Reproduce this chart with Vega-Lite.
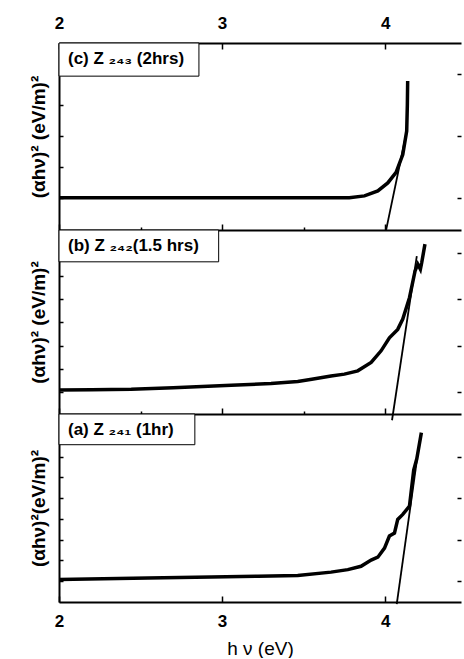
{
  "$schema": "https://vega.github.io/schema/vega-lite/v6.json",
  "padding": {"left": 29, "top": 14, "right": 0, "bottom": 0},
  "spacing": 0,
  "bounds": "flush",
  "background": "white",
  "config": {
    "font": "Liberation Sans",
    "view": {"stroke": null},
    "axis": {
      "grid": false,
      "domainColor": "black",
      "domainWidth": 2,
      "tickColor": "black",
      "tickWidth": 1.5,
      "labelColor": "black",
      "titleColor": "black",
      "labelFont": "Liberation Sans",
      "labelFontWeight": "bold",
      "labelFontSize": 17,
      "titleFont": "Liberation Sans",
      "titleFontWeight": "bold",
      "titleFontSize": 19
    }
  },
  "datasets": {
    "spectra": [
      {"panel": "c", "series": "data", "hv": 2.0, "ab": 0.0},
      {"panel": "c", "series": "data", "hv": 2.5, "ab": 0.0},
      {"panel": "c", "series": "data", "hv": 3.0, "ab": 0.0},
      {"panel": "c", "series": "data", "hv": 3.5, "ab": 0.0},
      {"panel": "c", "series": "data", "hv": 3.78, "ab": 0.0},
      {"panel": "c", "series": "data", "hv": 3.873, "ab": 0.03},
      {"panel": "c", "series": "data", "hv": 3.955, "ab": 0.11},
      {"panel": "c", "series": "data", "hv": 4.016, "ab": 0.24},
      {"panel": "c", "series": "data", "hv": 4.067, "ab": 0.41},
      {"panel": "c", "series": "data", "hv": 4.108, "ab": 0.7},
      {"panel": "c", "series": "data", "hv": 4.132, "ab": 1.08},
      {"panel": "c", "series": "data", "hv": 4.136, "ab": 1.5},
      {"panel": "c", "series": "data", "hv": 4.138, "ab": 1.89},
      {"panel": "c", "series": "fit", "hv": 4.006, "ab": -0.52},
      {"panel": "c", "series": "fit", "hv": 4.126, "ab": 1.0},
      {"panel": "b", "series": "data", "hv": 2.0, "ab": 0.05},
      {"panel": "b", "series": "data", "hv": 2.2, "ab": 0.055},
      {"panel": "b", "series": "data", "hv": 2.443, "ab": 0.064},
      {"panel": "b", "series": "data", "hv": 2.7, "ab": 0.1},
      {"panel": "b", "series": "data", "hv": 3.056, "ab": 0.15},
      {"panel": "b", "series": "data", "hv": 3.3, "ab": 0.19},
      {"panel": "b", "series": "data", "hv": 3.464, "ab": 0.23},
      {"panel": "b", "series": "data", "hv": 3.55, "ab": 0.28},
      {"panel": "b", "series": "data", "hv": 3.668, "ab": 0.35},
      {"panel": "b", "series": "data", "hv": 3.75, "ab": 0.39},
      {"panel": "b", "series": "data", "hv": 3.832, "ab": 0.46},
      {"panel": "b", "series": "data", "hv": 3.914, "ab": 0.64},
      {"panel": "b", "series": "data", "hv": 3.975, "ab": 0.89},
      {"panel": "b", "series": "data", "hv": 4.026, "ab": 1.17},
      {"panel": "b", "series": "data", "hv": 4.077, "ab": 1.35},
      {"panel": "b", "series": "data", "hv": 4.108, "ab": 1.57},
      {"panel": "b", "series": "data", "hv": 4.149, "ab": 2.03},
      {"panel": "b", "series": "data", "hv": 4.183, "ab": 2.6},
      {"panel": "b", "series": "data", "hv": 4.2, "ab": 2.75},
      {"panel": "b", "series": "data", "hv": 4.216, "ab": 2.64},
      {"panel": "b", "series": "data", "hv": 4.224, "ab": 2.78},
      {"panel": "b", "series": "data", "hv": 4.244, "ab": 3.18},
      {"panel": "b", "series": "fit", "hv": 4.042, "ab": -0.6},
      {"panel": "b", "series": "fit", "hv": 4.194, "ab": 2.92},
      {"panel": "a", "series": "data", "hv": 2.0, "ab": 0.04},
      {"panel": "a", "series": "data", "hv": 2.545, "ab": 0.08},
      {"panel": "a", "series": "data", "hv": 2.933, "ab": 0.1},
      {"panel": "a", "series": "data", "hv": 3.219, "ab": 0.12},
      {"panel": "a", "series": "data", "hv": 3.464, "ab": 0.14},
      {"panel": "a", "series": "data", "hv": 3.668, "ab": 0.22},
      {"panel": "a", "series": "data", "hv": 3.771, "ab": 0.28},
      {"panel": "a", "series": "data", "hv": 3.852, "ab": 0.36},
      {"panel": "a", "series": "data", "hv": 3.914, "ab": 0.51},
      {"panel": "a", "series": "data", "hv": 3.955, "ab": 0.58},
      {"panel": "a", "series": "data", "hv": 3.996, "ab": 0.8},
      {"panel": "a", "series": "data", "hv": 4.026, "ab": 1.09},
      {"panel": "a", "series": "data", "hv": 4.057, "ab": 1.16},
      {"panel": "a", "series": "data", "hv": 4.077, "ab": 1.49},
      {"panel": "a", "series": "data", "hv": 4.108, "ab": 1.61},
      {"panel": "a", "series": "data", "hv": 4.149, "ab": 1.81},
      {"panel": "a", "series": "data", "hv": 4.175, "ab": 2.68},
      {"panel": "a", "series": "data", "hv": 4.194, "ab": 2.95},
      {"panel": "a", "series": "data", "hv": 4.222, "ab": 3.58},
      {"panel": "a", "series": "fit", "hv": 4.071, "ab": -0.55},
      {"panel": "a", "series": "fit", "hv": 4.194, "ab": 2.9}
    ]
  },
  "vconcat": [
    {
      "width": 402,
      "height": 187,
      "layer": [
        {
          "data": {"name": "spectra"},
          "transform": [{"filter": "datum.panel === 'c' && datum.series === 'data'"}],
          "mark": {"type": "line", "color": "black", "strokeWidth": 3.5},
          "encoding": {
            "x": {"field": "hv", "type": "quantitative",
              "scale": {"domain": [2, 4.465], "nice": false, "zero": false},
              "axis": {"orient": "top", "values": [2, 2.5, 3, 3.5, 4], "format": "d", "labelExpr": "datum.value % 1 === 0 ? datum.label : ''",
                "labelFlush": false, "labelPadding": 17, "tickSize": {"condition": {"test": "datum.value % 1 === 0", "value": -6}, "value": -3}, "title": null}},
            "y": {"field": "ab", "type": "quantitative",
              "scale": {"domain": [-0.523, 2.507], "nice": false, "zero": false},
              "axis": {"orient": "left", "values": [0, 0.5, 1, 1.5, 2], "labels": false, "tickSize": -4, "title": "(αhν)²  (eV/m)²", "titlePadding": 10}}
          }
        },
        {
          "data": {"name": "spectra"},
          "transform": [{"filter": "datum.panel === 'c' && datum.series === 'fit'"}],
          "mark": {"type": "line", "color": "black", "strokeWidth": 1.8},
          "encoding": {
            "x": {"field": "hv", "type": "quantitative",
              "scale": {"domain": [2, 4.465], "nice": false, "zero": false},
              "axis": {"orient": "bottom", "values": [2, 2.5, 3, 3.5, 4], "labels": false,
                "tickSize": {"condition": {"test": "datum.value % 1 === 0", "value": -6}, "value": -3}, "title": null}},
            "y": {"field": "ab", "type": "quantitative",
              "scale": {"domain": [-0.523, 2.507], "nice": false, "zero": false},
              "axis": {"orient": "right", "values": [0, 1, 2], "labels": false, "domain": false, "tickSize": -4, "title": null}}
          }
        },
        {
          "data": {"values": [{"label": "(c) Z ₂₄₃ (2hrs)"}]},
          "mark": {"type": "rect", "fill": "white", "stroke": "black", "strokeWidth": 1},
          "encoding": {
            "x": {"datum": 2, "axis": null}, "x2": {"datum": 2.858},
            "y": {"datum": 1.97, "axis": null}, "y2": {"datum": 2.507}
          }
        },
        {
          "data": {"values": [{"label": "(c) Z ₂₄₃ (2hrs)"}]},
          "mark": {"type": "text", "align": "left", "baseline": "middle", "fontSize": 17, "fontWeight": "bold", "font": "Liberation Sans", "color": "black"},
          "encoding": {
            "x": {"datum": 2.055, "axis": null},
            "y": {"datum": 2.24, "axis": null},
            "text": {"field": "label"}
          }
        }
      ],
      "resolve": {"axis": {"x": "independent", "y": "independent"}}
    },
    {
      "width": 402,
      "height": 184,
      "layer": [
        {
          "data": {"name": "spectra"},
          "transform": [{"filter": "datum.panel === 'b' && datum.series === 'data'"}],
          "mark": {"type": "line", "color": "black", "strokeWidth": 3.5},
          "encoding": {
            "x": {"field": "hv", "type": "quantitative",
              "scale": {"domain": [2, 4.465], "nice": false, "zero": false}, "axis": null},
            "y": {"field": "ab", "type": "quantitative",
              "scale": {"domain": [-0.466, 3.483], "nice": false, "zero": false},
              "axis": {"orient": "left", "values": [0, 0.5, 1, 1.5, 2, 2.5, 3], "labels": false, "tickSize": -4, "title": "(αhν)²  (eV/m)²", "titlePadding": 10}}
          }
        },
        {
          "data": {"name": "spectra"},
          "transform": [{"filter": "datum.panel === 'b' && datum.series === 'fit'"}],
          "mark": {"type": "line", "color": "black", "strokeWidth": 1.8},
          "encoding": {
            "x": {"field": "hv", "type": "quantitative",
              "scale": {"domain": [2, 4.465], "nice": false, "zero": false},
              "axis": {"orient": "bottom", "values": [2, 2.5, 3, 3.5, 4], "labels": false,
                "tickSize": {"condition": {"test": "datum.value % 1 === 0", "value": -6}, "value": -3}, "title": null}},
            "y": {"field": "ab", "type": "quantitative",
              "scale": {"domain": [-0.466, 3.483], "nice": false, "zero": false},
              "axis": {"orient": "right", "values": [0, 1, 2, 3], "labels": false, "domain": false, "tickSize": -4, "title": null}}
          }
        },
        {
          "data": {"values": [{"label": "(b) Z ₂₄₂(1.5 hrs)"}]},
          "mark": {"type": "rect", "fill": "white", "stroke": "black", "strokeWidth": 1},
          "encoding": {
            "x": {"datum": 2, "axis": null}, "x2": {"datum": 2.979},
            "y": {"datum": 2.8, "axis": null}, "y2": {"datum": 3.483}
          }
        },
        {
          "data": {"values": [{"label": "(b) Z ₂₄₂(1.5 hrs)"}]},
          "mark": {"type": "text", "align": "left", "baseline": "middle", "fontSize": 17, "fontWeight": "bold", "font": "Liberation Sans", "color": "black"},
          "encoding": {
            "x": {"datum": 2.055, "axis": null},
            "y": {"datum": 3.14, "axis": null},
            "text": {"field": "label"}
          }
        }
      ],
      "resolve": {"axis": {"x": "independent", "y": "independent"}}
    },
    {
      "width": 402,
      "height": 188,
      "layer": [
        {
          "data": {"name": "spectra"},
          "transform": [{"filter": "datum.panel === 'a' && datum.series === 'data'"}],
          "mark": {"type": "line", "color": "black", "strokeWidth": 3.5},
          "encoding": {
            "x": {"field": "hv", "type": "quantitative",
              "scale": {"domain": [2, 4.465], "nice": false, "zero": false}, "axis": null},
            "y": {"field": "ab", "type": "quantitative",
              "scale": {"domain": [-0.5, 4.03], "nice": false, "zero": false},
              "axis": {"orient": "left", "values": [0, 0.5, 1, 1.5, 2, 2.5, 3, 3.5], "labels": false, "tickSize": -4, "title": "(αhν)²(eV/m)²", "titlePadding": 10}}
          }
        },
        {
          "data": {"name": "spectra"},
          "transform": [{"filter": "datum.panel === 'a' && datum.series === 'fit'"}],
          "mark": {"type": "line", "color": "black", "strokeWidth": 1.8},
          "encoding": {
            "x": {"field": "hv", "type": "quantitative",
              "scale": {"domain": [2, 4.465], "nice": false, "zero": false},
              "axis": {"orient": "bottom", "values": [2, 2.5, 3, 3.5, 4], "format": "d", "labelExpr": "datum.value % 1 === 0 ? datum.label : ''",
                "labelFlush": false, "labelPadding": 17,
                "tickSize": {"condition": {"test": "datum.value % 1 === 0", "value": -6}, "value": -3},
                "title": "h ν (eV)", "titleFontWeight": "normal", "titleFontSize": 19, "titlePadding": 10}},
            "y": {"field": "ab", "type": "quantitative",
              "scale": {"domain": [-0.5, 4.03], "nice": false, "zero": false},
              "axis": {"orient": "right", "values": [0, 1, 2, 3], "labels": false, "domain": false, "tickSize": -4, "title": null}}
          }
        },
        {
          "data": {"values": [{"label": "(a)  Z ₂₄₁ (1hr)"}]},
          "mark": {"type": "rect", "fill": "white", "stroke": "black", "strokeWidth": 1},
          "encoding": {
            "x": {"datum": 2, "axis": null}, "x2": {"datum": 2.833},
            "y": {"datum": 3.29, "axis": null}, "y2": {"datum": 4.03}
          }
        },
        {
          "data": {"values": [{"label": "(a)  Z ₂₄₁ (1hr)"}]},
          "mark": {"type": "text", "align": "left", "baseline": "middle", "fontSize": 17, "fontWeight": "bold", "font": "Liberation Sans", "color": "black"},
          "encoding": {
            "x": {"datum": 2.055, "axis": null},
            "y": {"datum": 3.65, "axis": null},
            "text": {"field": "label"}
          }
        }
      ],
      "resolve": {"axis": {"x": "independent", "y": "independent"}}
    }
  ]
}
